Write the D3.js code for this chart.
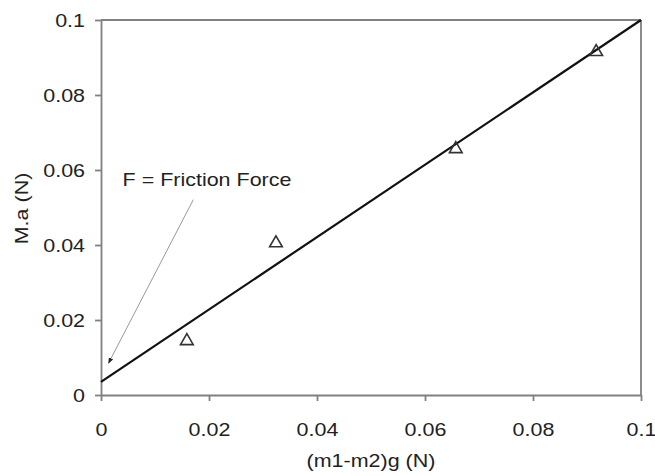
<!DOCTYPE html>
<html>
<head>
<meta charset="utf-8">
<script src="https://cdn.jsdelivr.net/npm/d3@7"></script>
<style>
  body { margin: 0; background: #fff; }
  svg text { font-family: "Liberation Sans", Arial, sans-serif; fill: #222; }
</style>
</head>
<body>
<svg id="chart" width="655" height="476"></svg>
<script>
// measured points (m1-m2)g vs M.a
const xValues = [0.0159, 0.0324, 0.0657, 0.0917]
const yValues = [0.0144, 0.0405, 0.0656, 0.0915]
// linear fit
const fitX = [0, 0.1]
const fitY = [0.0035, 0.1]
const xTicks = [0, 0.02, 0.04, 0.06, 0.08, 0.1]
const yTicks = [0, 0.02, 0.04, 0.06, 0.08, 0.1]
const annotation = "F = Friction Force"

const svg = d3.select('#chart')
const margin = {top: 20, right: 14, bottom: 81, left: 101}
const W = 655, H = 476
const width = W - margin.left - margin.right,
    height = H - margin.top - margin.bottom
const FS = 19, STRETCH = 1.13

// widen glyphs a bit, the source font is broader than Arial
const stretch = sel => sel.each(function() {
    const l = this.getComputedTextLength()
    d3.select(this).attr('textLength', l * STRETCH).attr('lengthAdjust', 'spacingAndGlyphs')
})

const x = d3.scaleLinear().domain([0, 0.1]).range([0, width])
const y = d3.scaleLinear().domain([0, 0.1]).range([height, 0])

const g = svg.append('g').attr('transform', `translate(${margin.left},${margin.top})`)

const fmt = d => d === 0 ? '0' : String(+d.toFixed(2))

// axes
const xAxis = g.append('g')
    .attr('transform', `translate(0,${height})`)
    .call(d3.axisBottom(x).tickValues(xTicks).tickFormat(fmt).tickSize(6).tickSizeOuter(0))
const yAxis = g.append('g')
    .call(d3.axisLeft(y).tickValues(yTicks).tickFormat(fmt).tickSize(6).tickSizeOuter(0))

;[xAxis, yAxis].forEach(a => {
    a.attr('font-size', null).attr('font-family', null)
    a.selectAll('path, line').attr('stroke', '#808080').attr('stroke-width', 1.8)
    a.selectAll('text').style('font-size', FS + 'px').style('fill', '#222')
})
xAxis.selectAll('text').attr('y', 0).attr('dy', 0).attr('transform', 'translate(0,41)')
yAxis.selectAll('text').attr('x', -16).attr('dy', '0.36em')
stretch(xAxis.selectAll('text'))
stretch(yAxis.selectAll('text'))

// top & right frame
g.append('line').attr('x1', 0).attr('x2', width).attr('y1', 0).attr('y2', 0)
    .attr('stroke', '#808080').attr('stroke-width', 1.8)
g.append('line').attr('x1', width).attr('x2', width).attr('y1', 0).attr('y2', height)
    .attr('stroke', '#808080').attr('stroke-width', 1.8)

// fit line
g.append('line')
    .attr('x1', x(fitX[0])).attr('y1', y(fitY[0]))
    .attr('x2', x(fitX[1])).attr('y2', y(fitY[1]))
    .attr('stroke', '#111').attr('stroke-width', 2.2)

// triangle markers
const tri = d3.symbol().type(d3.symbolTriangle).size(70)
g.selectAll('path.pt')
    .data(xValues.map((d, i) => [d, yValues[i]]))
    .enter()
        .append('path')
        .classed('pt', true)
        .attr('d', tri)
        .attr('transform', d => `translate(${x(d[0])},${y(d[1])})`)
        .attr('fill', 'none')
        .attr('stroke', '#333')
        .attr('stroke-width', 1.6)

// annotation with arrow
svg.append('defs').append('marker')
    .attr('id', 'arr')
    .attr('viewBox', '0 0 10 10')
    .attr('refX', 9).attr('refY', 5)
    .attr('markerWidth', 6).attr('markerHeight', 6)
    .attr('orient', 'auto')
    .append('path').attr('d', 'M0,1 L10,5 L0,9 z').attr('fill', '#222')

g.append('line')
    .attr('x1', x(0.0171)).attr('y1', y(0.0521))
    .attr('x2', x(0.0014)).attr('y2', y(0.0085))
    .attr('stroke', '#999').attr('stroke-width', 1)
    .attr('marker-end', 'url(#arr)')

g.append('text')
    .attr('x', x(0.004)).attr('y', y(0.0557))
    .style('font-size', FS + 'px')
    .text(annotation)
    .call(stretch)

// axis titles
svg.append('text')
    .attr('x', margin.left + width / 2).attr('y', 467)
    .attr('text-anchor', 'middle')
    .style('font-size', FS + 'px')
    .text('(m1-m2)g (N)')
    .call(stretch)

svg.append('text')
    .attr('transform', `translate(28,${margin.top + height / 2 + 1}) rotate(-90)`)
    .attr('text-anchor', 'middle')
    .style('font-size', FS + 'px')
    .text('M.a (N)')
    .call(stretch)
</script>
</body>
</html>
